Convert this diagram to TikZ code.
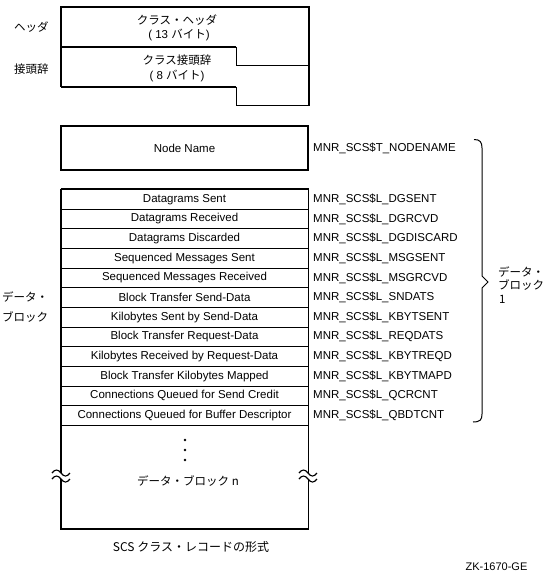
\documentclass[tikz,border=0pt]{standalone}
\usepackage{fontspec}
\setmainfont{Liberation Sans}
\newfontfamily\cjk{Noto Sans CJK JP}
\newfontfamily\latf{Liberation Sans}
\begin{document}
\begin{tikzpicture}[x=1pt,y=-1pt,
  thickline/.style={line width=1.8pt},
  thinline/.style={line width=1pt},
  lat/.style={font=\fontsize{11.5}{13}\selectfont, inner sep=0pt},
  jp/.style={font=\cjk\fontsize{11.5}{13}\selectfont, inner sep=0pt},
  rowbox/.style={draw, thinline, minimum width=247pt, minimum height=19.65pt, inner sep=0pt, lat},
  lab/.style={lat, anchor=west},
  brk/.style={line width=1.1pt}
]
\useasboundingbox (0,0) rectangle (551,575);

% ---- header / prefix ----
\draw[thickline] (61,87) -- (61,7) -- (309,7) -- (309,106);
\draw[thickline] (61,47) -- (236,47);
\draw[thickline] (61,87) -- (236,87);
\draw[thinline] (236,47) -- (236,66) -- (309,66);
\draw[thinline] (236,87) -- (236,106) -- (309,106);
\node[jp] (hdr1) at (177,20) {クラス・ヘッダ};
\node[jp] (hdr2) at (179,35) {{\latf( 13 }バイト{\latf)}};
\node[jp] (pre1) at (177,60) {クラス接頭辞};
\node[jp] (pre2) at (177,76) {{\latf( 8 }バイト{\latf)}};
\node[jp, anchor=west] (lhdr) at (14,27) {ヘッダ};
\node[jp, anchor=west] (lpre) at (14,69) {接頭辞};

% ---- node name ----
\node[draw, thickline, minimum width=247pt, minimum height=44pt, inner sep=0pt, lat] (nn) at (184.5,148) {Node Name};
\node[lab] (lnn) at (313,148) {MNR\_SCS\$T\_NODENAME};

% ---- data rows ----
\foreach \t/\l [count=\i] in {
  Datagrams Sent/MNR\_SCS\$L\_DGSENT,
  Datagrams Received/MNR\_SCS\$L\_DGRCVD,
  Datagrams Discarded/MNR\_SCS\$L\_DGDISCARD,
  Sequenced Messages Sent/MNR\_SCS\$L\_MSGSENT,
  Sequenced Messages Received/MNR\_SCS\$L\_MSGRCVD,
  Block Transfer Send-Data/MNR\_SCS\$L\_SNDATS,
  Kilobytes Sent by Send-Data/MNR\_SCS\$L\_KBYTSENT,
  Block Transfer Request-Data/MNR\_SCS\$L\_REQDATS,
  Kilobytes Received by Request-Data/MNR\_SCS\$L\_KBYTREQD,
  Block Transfer Kilobytes Mapped/MNR\_SCS\$L\_KBYTMAPD,
  Connections Queued for Send Credit/MNR\_SCS\$L\_QCRCNT,
  Connections Queued for Buffer Descriptor/MNR\_SCS\$L\_QBDTCNT}
{
  \node[rowbox] (r\i) at (184.5,{189.5+19.65*(\i-0.5)}) {\t};
  \node[lab] (l\i) at (313,{189.5+19.65*(\i-0.5)}) {\l};
}

% ---- data block n ----
\node[draw, thinline, minimum width=247pt, minimum height=103pt, inner sep=0pt] (bn) at (184.5,476.8) {};
\node[jp] (bntext) at (188,481) {データ・ブロック n};
\fill (185,440) circle (1.3);
\fill (185,450) circle (1.3);
\fill (185,460) circle (1.3);

% thick outline of data area
\draw[thickline] (r1.north west) -- (r1.north east);
\draw[thickline] (r1.north west) -- (bn.south west) -- (bn.south east) -- (r1.north east);

% break marks
\foreach \bx/\by in {61/476, 308/476}{
  \begin{scope}[shift={(\bx,\by)}]
    \fill[white] (-9,-3) .. controls (-6,-7) and (-3,-7) .. (0,-3) .. controls (3,1) and (6,1) .. (9,-3)
      -- (9,3) .. controls (6,7) and (3,7) .. (0,3) .. controls (-3,-1) and (-6,-1) .. (-9,3) -- cycle;
    \draw[brk] (-9,-3) .. controls (-6,-7) and (-3,-7) .. (0,-3) .. controls (3,1) and (6,1) .. (9,-3);
    \draw[brk] (-9,3) .. controls (-6,-1) and (-3,-1) .. (0,3) .. controls (3,7) and (6,7) .. (9,3);
  \end{scope}
}

% left labels
\node[jp, anchor=west] (ldb1) at (2,297) {データ・};
\node[jp, anchor=west] (ldb2) at (2,317) {ブロック};

% brace
\draw[thinline] (474,139.5) .. controls (480,139.5) and (482,142) .. (482,148)
  -- (482,276) -- (488,282) -- (482,288) -- (482,414)
  .. controls (482,420) and (480,422) .. (473,422);
\node[jp, anchor=west] (bl1) at (498,272) {データ・};
\node[jp, anchor=west] (bl2) at (498,285.5) {ブロック};
\node[jp, anchor=west] (bl3) at (499,299) {1};

% captions
\node[jp, font=\cjk\fontsize{12}{14}\selectfont] (cap) at (191,547) {SCS クラス・レコードの形式};
\node[lat, font=\fontsize{11}{13}\selectfont] (zk) at (496.5,567) {ZK-1670-GE};
\end{tikzpicture}
\end{document}
